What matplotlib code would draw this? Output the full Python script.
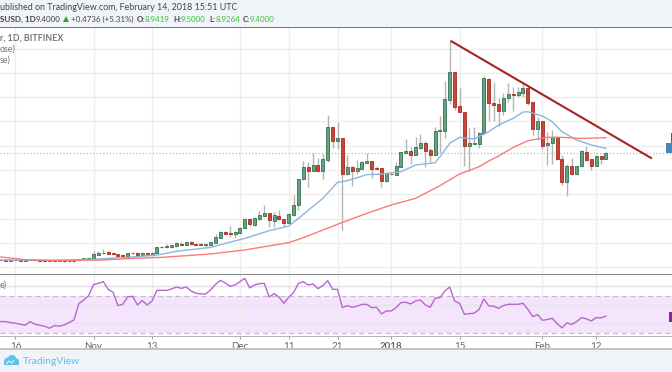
#!/usr/bin/env python3
"""EOSUSD daily candles with two moving averages, trend line and RSI pane."""

import matplotlib
matplotlib.use('Agg')
import matplotlib.pyplot as plt
import matplotlib.dates as mdates
from matplotlib.patches import Rectangle, Polygon, Ellipse
import pandas as pd

plt.rcParams['font.family'] = ['Lato', 'DejaVu Sans']

# ---------------------------------------------------------------------------
# Data, one entry per day from 2017-10-13 to 2018-02-14
# ---------------------------------------------------------------------------
dates = pd.date_range('2017-10-13', '2018-02-14', freq='D')

opens = [
    .58, .56, .55, .58, .56, .55, .57, .60, .56, .55, .54, .56, .55,
    .56, .52, .54, .56, .65, .67,
    .73, 1.00, 1.14, 1.22, 1.17, 1.09, 1.00, .92, 1.14, 1.20, 1.00, 1.20, .98,
    1.17, 1.69, 1.63, 1.63, 1.72, 1.91, 1.85, 2.05, 1.94, 1.91, 1.83, 1.85,
    2.02, 2.40, 2.90, 2.81, 2.70, 2.81, 3.23, 3.97, 3.50, 3.99, 4.21, 4.46,
    3.83, 4.21, 3.99, 3.64, 4.32, 5.12, 7.23, 8.22, 7.94, 8.41,
    7.94, 8.82, 11.51, 10.41, 10.66, 7.67, 8.27, 7.94, 8.11, 8.60, 8.74, 8.16,
    8.16, 7.07, 7.70, 7.62, 8.27, 9.43, 9.54, 9.26, 9.78, 10.19, 9.65, 9.23,
    11.21, 11.24, 13.79, 16.04, 13.27, 12.80, 10.00, 10.14, 10.17, 11.07, 15.49,
    13.51, 13.43, 12.88, 13.90, 14.25, 14.20, 14.36, 14.75, 13.57, 11.34, 12.03,
    10.03, 10.19, 10.71, 8.90, 7.04, 8.33, 7.67, 8.30, 9.45, 8.93, 8.33, 9.15,
    8.94,
]
highs = [
    .62, .60, .60, .60, .59, .59, .62, .62, .58, .57, .58, .58, .58,
    .58, .56, .57, .67, .75, .81,
    1.36, 1.36, 1.47, 1.36, 1.22, 1.11, 1.06, 1.20, 1.25, 1.22, 1.22, 1.22, 1.28,
    1.69, 1.74, 1.88, 1.85, 2.07, 2.05, 2.07, 2.13, 1.96, 1.96, 1.94, 2.10,
    2.73, 2.98, 2.98, 3.39, 3.01, 3.28, 4.02, 4.05, 4.10, 4.62, 5.15, 4.49,
    4.57, 4.71, 3.99, 4.43, 5.94, 7.29, 8.74, 8.68, 9.37, 8.96,
    9.32, 12.53, 11.51, 11.92, 10.66, 9.23, 8.33, 8.82, 8.74, 9.43, 8.74, 8.33,
    8.16, 7.86, 7.78, 8.68, 9.48, 10.55, 9.92, 10.74, 10.96, 10.41, 9.78, 11.51,
    12.47, 15.35, 18.61, 16.04, 14.72, 12.80, 11.43, 11.51, 11.15, 15.73, 15.54,
    15.21, 13.89, 14.31, 15.13, 14.86, 14.80, 15.07, 14.91, 13.57, 12.39, 12.03,
    11.15, 11.29, 10.82, 9.23, 8.49, 8.96, 8.33, 9.64, 9.97, 8.93, 9.23, 9.15,
    9.50,
]
lows = [
    .54, .53, .53, .54, .53, .53, .55, .53, .53, .52, .52, .53, .53,
    .44, .45, .46, .54, .63, .65,
    .67, .98, 1.09, 1.06, 1.00, .87, .84, .89, 1.09, .98, .98, 1.00, .95,
    1.14, 1.58, 1.58, 1.61, 1.69, 1.80, 1.83, 1.83, 1.83, 1.80, 1.69, 1.83,
    1.96, 2.37, 2.70, 2.46, 2.37, 2.73, 3.20, 3.42, 3.42, 3.88, 4.16, 3.28,
    3.34, 3.88, 3.34, 3.61, 4.24, 4.71, 7.18, 6.57, 7.89, 7.89,
    7.23, 8.68, 9.78, 9.73, 3.06, 7.59, 6.71, 7.67, 8.08, 8.55, 7.31, 8.05,
    6.57, 7.04, 7.59, 7.59, 8.27, 9.32, 8.49, 9.21, 9.73, 8.22, 8.63, 9.18,
    9.37, 10.61, 13.43, 12.94, 12.66, 8.36, 7.94, 10.14, 9.78, 11.02, 12.00,
    12.03, 11.65, 12.52, 13.62, 12.88, 13.98, 14.03, 13.35, 10.88, 10.47, 9.70,
    8.41, 8.49, 8.82, 6.76, 5.86, 7.59, 7.62, 8.27, 8.77, 8.00, 8.33, 8.49,
    8.93,
]
closes = [
    .56, .55, .58, .56, .55, .57, .60, .56, .55, .54, .56, .55, .56,
    .48, .47, .48, .65, .73, .78,
    1.06, 1.14, 1.20, 1.11, 1.06, .89, .87, 1.14, 1.20, 1.00, 1.20, 1.03, 1.20,
    1.66, 1.63, 1.77, 1.80, 1.96, 1.85, 2.05, 1.88, 1.85, 1.85, 1.88, 2.07,
    2.51, 2.90, 2.76, 2.73, 2.90, 3.23, 3.97, 3.55, 4.05, 4.30, 4.46, 3.86,
    4.27, 3.97, 3.64, 4.38, 5.09, 7.29, 8.22, 7.94, 8.41, 7.94,
    8.88, 11.51, 10.41, 10.66, 7.67, 8.27, 7.94, 8.14, 8.63, 8.74, 8.08, 8.11,
    7.12, 7.73, 7.64, 8.33, 9.48, 9.54, 9.26, 9.86, 10.19, 9.59, 9.21, 11.24,
    11.29, 13.84, 16.04, 13.21, 12.74, 10.00, 10.19, 10.22, 11.07, 15.57, 13.49,
    13.37, 12.88, 13.95, 14.25, 14.20, 14.42, 14.75, 13.54, 11.37, 12.03, 10.00,
    10.25, 10.69, 8.88, 7.04, 8.33, 7.67, 8.33, 9.53, 8.85, 8.33, 9.15, 8.93,
    9.40,
]
rsi = [
    42.0, 42.0, 40.9, 40.2, 39.1, 38.0, 42.0, 39.1, 38.0, 37.0, 34.8, 37.7,
    37.0, 38.4, 40.9, 43.8, 61.4, 65.4, 70.1,
    82.0, 83.4, 85.2, 76.9, 73.7, 59.3, 60.7, 68.6, 69.4, 60.0, 64.7, 60.0,
    64.3, 75.8, 75.8, 75.8, 77.3, 79.4, 78.0, 79.4, 75.1, 72.6, 71.9, 71.9,
    76.2, 82.3, 86.6, 83.8, 80.2, 81.6, 85.2, 88.8, 78.4, 81.6, 83.0, 83.4,
    68.6, 72.2, 68.6, 61.8, 68.3, 73.3, 83.4, 85.2, 81.6, 82.7, 77.6, 80.9,
    86.3, 76.9, 76.9,
    57.1, 59.3, 57.5, 58.6, 60.7, 60.7, 57.1, 57.5, 50.3, 53.5, 53.5, 57.1,
    62.5, 62.9, 61.1, 64.3, 65.4, 60.0, 57.5, 67.2, 67.9, 75.1, 79.4, 64.3,
    61.8, 49.9, 50.6, 51.0, 55.0, 66.5, 58.9, 58.6, 56.4, 59.3, 60.7, 60.7,
    60.7, 61.8, 55.3, 47.4, 49.6, 43.4, 44.2, 45.6, 39.8, 35.2, 40.6, 38.8,
    42.0, 46.3, 44.9, 42.7, 46.3, 46.0, 47.8,
]

# moving averages, read at selected days (days counted from 2017-11-01)
ma_fast_days = [-19, -8, 0, 7, 13, 17, 24, 27, 31, 36, 40, 42, 47, 50, 52, 56, 59,
                63, 66, 70, 71, 73, 75, 78, 81, 83, 86, 88, 89, 92, 94, 96, 99,
                102, 105]
ma_fast = [.60, .57, .65, .81, 1.0, 1.31, 1.63, 1.96, 2.37, 3.0, 3.39, 4.02, 5.67,
           6.98, 7.12, 7.62, 7.67, 7.86, 8.41, 8.60, 9.10, 10.2, 10.69, 10.55,
           11.15, 11.70, 12.25, 12.77, 12.8, 12.44, 11.98, 11.15, 10.47, 10.06,
           9.78]
ma_slow_days = [-19, -14, -8, 2, 8, 14, 24, 31, 40, 42, 46, 51, 56, 61, 66, 71, 75,
                79, 81, 83, 86, 89, 93, 96, 100, 105]
ma_slow = [.84, .62, .55, .59, .73, .81, 1.09, 1.42, 2.02, 2.29, 2.90, 3.69, 4.43,
           5.12, 5.67, 6.71, 7.67, 8.27, 8.74, 9.15, 9.86, 10.41, 10.69, 10.69,
           10.6, 10.66]

trend_dates = ['2018-01-13 08:00', '2018-02-23 06:00']
trend_prices = [18.6, 8.99]
last_price = 9.40

tick_dates = ['2017-10-16', '2017-11-01', '2017-11-13', '2017-12-01', '2017-12-11',
              '2017-12-21', '2018-01-01', '2018-01-15', '2018-02-01', '2018-02-12']
tick_labels = ['16', 'Nov', '13', 'Dec', '11', '21', '2018', '15', 'Feb', '12']
price_grid = [0, 2, 4, 6, 8, 10, 12, 14, 16, 18]
rsi_grid = [40, 60, 80]

# ---------------------------------------------------------------------------
# Plot
# ---------------------------------------------------------------------------
W, H = 672, 372
fig = plt.figure(figsize=(W / 100, H / 100), dpi=100, facecolor='white')


def pane(top, bottom):
    return fig.add_axes([0, 1 - bottom / H, 1, (bottom - top) / H])


def band(x0, y0, x1, y1, color, zorder=5):
    fig.add_artist(Rectangle((x0 / W, 1 - y1 / H), (x1 - x0) / W, (y1 - y0) / H,
                             transform=fig.transFigure, facecolor=color,
                             edgecolor='none', zorder=zorder))


def label(x, y, s, color='#444444', size=6.4, weight='normal', ha='left'):
    fig.text(x / W, 1 - y / H, s, color=color, fontsize=size, fontweight=weight,
             ha=ha, va='center', zorder=6)


ax = pane(28, 274)
ax_rsi = pane(275, 336)

x_num = mdates.date2num(dates)
nov1 = mdates.date2num(pd.Timestamp('2017-11-01'))
# 4.88 px per day, Nov 1 sits at x = 93.5
xlim = (nov1 - 93.5 / 4.88, nov1 + (W - 93.5) / 4.88)
grid_x = mdates.date2num(pd.to_datetime(tick_dates))

for a in (ax, ax_rsi):
    a.set_xlim(xlim)
    a.set_xticks(grid_x)
    for s in a.spines.values():
        s.set_visible(False)
    a.grid(True, color='#eeeeee', linewidth=1.0)
    a.set_axisbelow(True)

ax.set_ylim(-0.56, 19.69)
ax.set_yticks(price_grid)
ax.tick_params(left=False, bottom=False, labelleft=False, labelbottom=False)

ax.axhline(last_price, color='#9cc8ae', linestyle=':', linewidth=0.9, zorder=1)

# candles
for xi, o, h, l, c in zip(x_num, opens, highs, lows, closes):
    up = c >= o
    ax.vlines(xi, l, h, color='#b4b4b4', linewidth=1.0, zorder=2)
    ax.bar(xi, max(abs(c - o), 0.06), bottom=min(o, c), width=0.62,
           facecolor='#6b9f82' if up else '#c4473a',
           edgecolor='#2f7350' if up else '#a82a1e', linewidth=0.6, zorder=3)

ax.plot(nov1 + pd.Series(ma_fast_days), ma_fast, color='#8db6da', linewidth=1.0, zorder=4)
ax.plot(nov1 + pd.Series(ma_slow_days), ma_slow, color='#f87c7c', linewidth=1.0, zorder=4)
ax.plot(mdates.date2num(pd.to_datetime(trend_dates)), trend_prices, color='#a52323',
        linewidth=1.5, zorder=5)

# RSI pane
ax_rsi.set_ylim(26.4, 92.4)
ax_rsi.set_yticks(rsi_grid)
ax_rsi.axhspan(30, 70, facecolor='#f4e5fc', edgecolor='none', zorder=0.5)
for level in rsi_grid:
    ax_rsi.axhline(level, color='#ebdff0', linewidth=1.0, zorder=0.6)
for level in (30, 70):
    ax_rsi.axhline(level, color='#c8b8d0', linestyle=(0, (4, 3)), linewidth=0.9, zorder=1)
ax_rsi.plot(x_num, rsi, color='#b966d0', linewidth=1.0, zorder=3)
ax_rsi.set_xticklabels(tick_labels, fontsize=7, color='#666666')
ax_rsi.tick_params(axis='x', length=2, width=0.7, color='#999999', pad=2.5)
ax_rsi.tick_params(axis='y', left=False, labelleft=False)
ax_rsi.get_xticklabels()[6].set_fontweight('bold')

# header and footer strips
band(0, 0, W, 27, '#f0f3f7')
band(0, 27, W, 28, '#777777')
band(0, 274, W, 275, '#888888')
band(0, 336, W, 337, '#b5b5b5')
band(0, 348, W, H, '#f0f3f7')
band(0, 348, W, 350, '#c4c4c4')

# price tags on the right edge
band(671, 133, W, 143, '#e8202a')
band(666, 143, W, 153, '#4f83ad')
band(669, 312, W, 322, '#8e1fa0')

# header text, only the part left of the edge cut is visible in the picture
label(0, 7.5, 'ublished on TradingView.com, February 14, 2018 15:51 UTC')
label(0, 19, 'SUSD, 1D', size=5.9, weight='bold')
label(36, 19, '9.4000', size=5.7)
fig.add_artist(Polygon([(63 / W, 1 - 22 / H), (69 / W, 1 - 22 / H), (66 / W, 1 - 16 / H)],
                       transform=fig.transFigure, facecolor='#2aa52a', edgecolor='none',
                       zorder=6))
label(71, 19, '+0.4736 (+5.31%)', size=5.7)
for x_key, key, x_val, val in [(137, 'O:', 145, '8.9419'), (173, 'H:', 181, '9.5000'),
                               (209, 'L:', 216, '8.9264'), (243, 'C:', 250, '9.4000')]:
    label(x_key, 19, key, size=5.7, weight='bold')
    label(x_val, 19, val, color='#3cbf3c', size=5.7)

# pane legends
label(0, 38, 'r, 1D, BITFINEX', color='#777777', weight='bold')
label(0, 49, 'ose)', color='#777777')
label(0, 60, 'se)', color='#777777')
label(0, 285, 'e)', color='#777777')

# footer logo
logo = '#5cc3e8'
for cx, cy, rx, ry in [(8, 361, 4, 3.5), (12, 358.5, 4, 3.5), (15.5, 361, 3.2, 3)]:
    fig.add_artist(Ellipse((cx / W, 1 - cy / H), 2 * rx / W, 2 * ry / H,
                           transform=fig.transFigure, facecolor=logo, edgecolor='none',
                           zorder=6))
band(4, 361, 18.5, 364.5, logo, zorder=6)
fig.add_artist(Polygon([(6 / W, 1 - 364 / H), (9 / W, 1 - 361 / H), (11.5 / W, 1 - 363 / H),
                        (14.5 / W, 1 - 360 / H)], closed=False, fill=False,
                       edgecolor='#f0f3f7', linewidth=0.8, transform=fig.transFigure,
                       zorder=7))
label(23, 361, 'TradingView', color=logo, size=7.4)

fig.savefig('out.png', dpi=100, facecolor='white')
plt.close(fig)
